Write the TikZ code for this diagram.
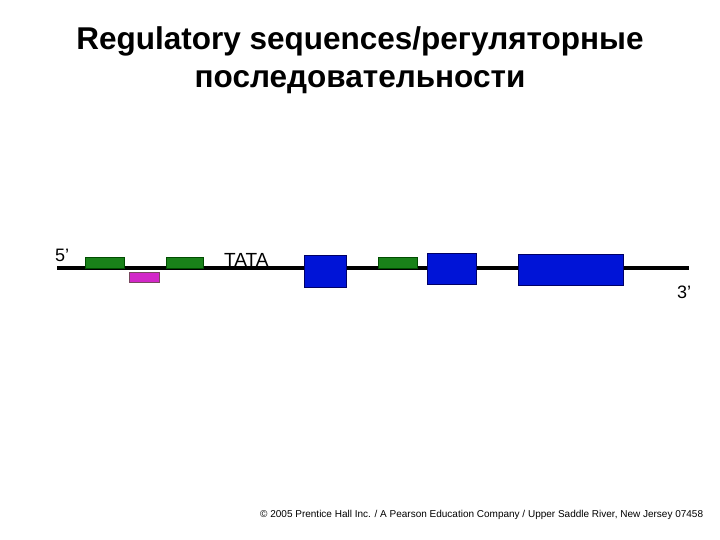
\documentclass[tikz,border=0pt]{standalone}
\usepackage{fontspec}
\setmainfont{Liberation Sans}
\begin{document}
\begin{tikzpicture}[x=1pt,y=-1pt,
  green box/.style={draw=black!70!green, line width=0.6pt, fill=green!45!black!90!white},
  pink box/.style={draw=black!60!magenta, line width=0.6pt, fill={rgb,255:red,210;green,40;blue,200}},
  blue box/.style={draw=black!60!blue, line width=0.6pt, fill={rgb,255:red,0;green,20;blue,215}},
  label/.style={inner sep=0pt, anchor=base west, font=\fontsize{18}{20}\selectfont}]
\useasboundingbox (0,0) rectangle (720,540);
\node[font=\bfseries\fontsize{31.5}{38}\selectfont, align=center, inner sep=0pt, anchor=base] (title) at (360,88)
  {Regulatory sequences/регуляторные\\последовательности};
\coordinate (L) at (57,268);
\coordinate (R) at (689,268);
\draw[line width=4pt] (L) -- (R);
\node[green box, minimum width=39, minimum height=11, inner sep=0pt] (g1) at (104.5,262.5) {};
\node[pink box, minimum width=30, minimum height=10, inner sep=0pt] (m1) at (144,277) {};
\node[green box, minimum width=37, minimum height=11, inner sep=0pt] (g2) at (184.5,262.5) {};
\node[green box, minimum width=39, minimum height=11, inner sep=0pt] (g3) at (397.5,262.5) {};
\node[blue box, minimum width=42, minimum height=32, inner sep=0pt] (b1) at (325,271) {};
\node[blue box, minimum width=49, minimum height=31, inner sep=0pt] (b2) at (451.5,268.5) {};
\node[blue box, minimum width=105, minimum height=31, inner sep=0pt] (b3) at (570.5,269.5) {};
\node[label, font=\fontsize{19}{20}\selectfont] (tata) at (224,266) {TATA};
\node[label] (five) at (55,261) {5’};
\node[label] (three) at (677,298) {3’};
\node[inner sep=0pt, anchor=base west, font=\fontsize{10}{11}\selectfont] (copy) at (260,517)
  {© 2005 Prentice Hall Inc. / A Pearson Education Company / Upper Saddle River, New Jersey 07458};
\end{tikzpicture}
\end{document}
